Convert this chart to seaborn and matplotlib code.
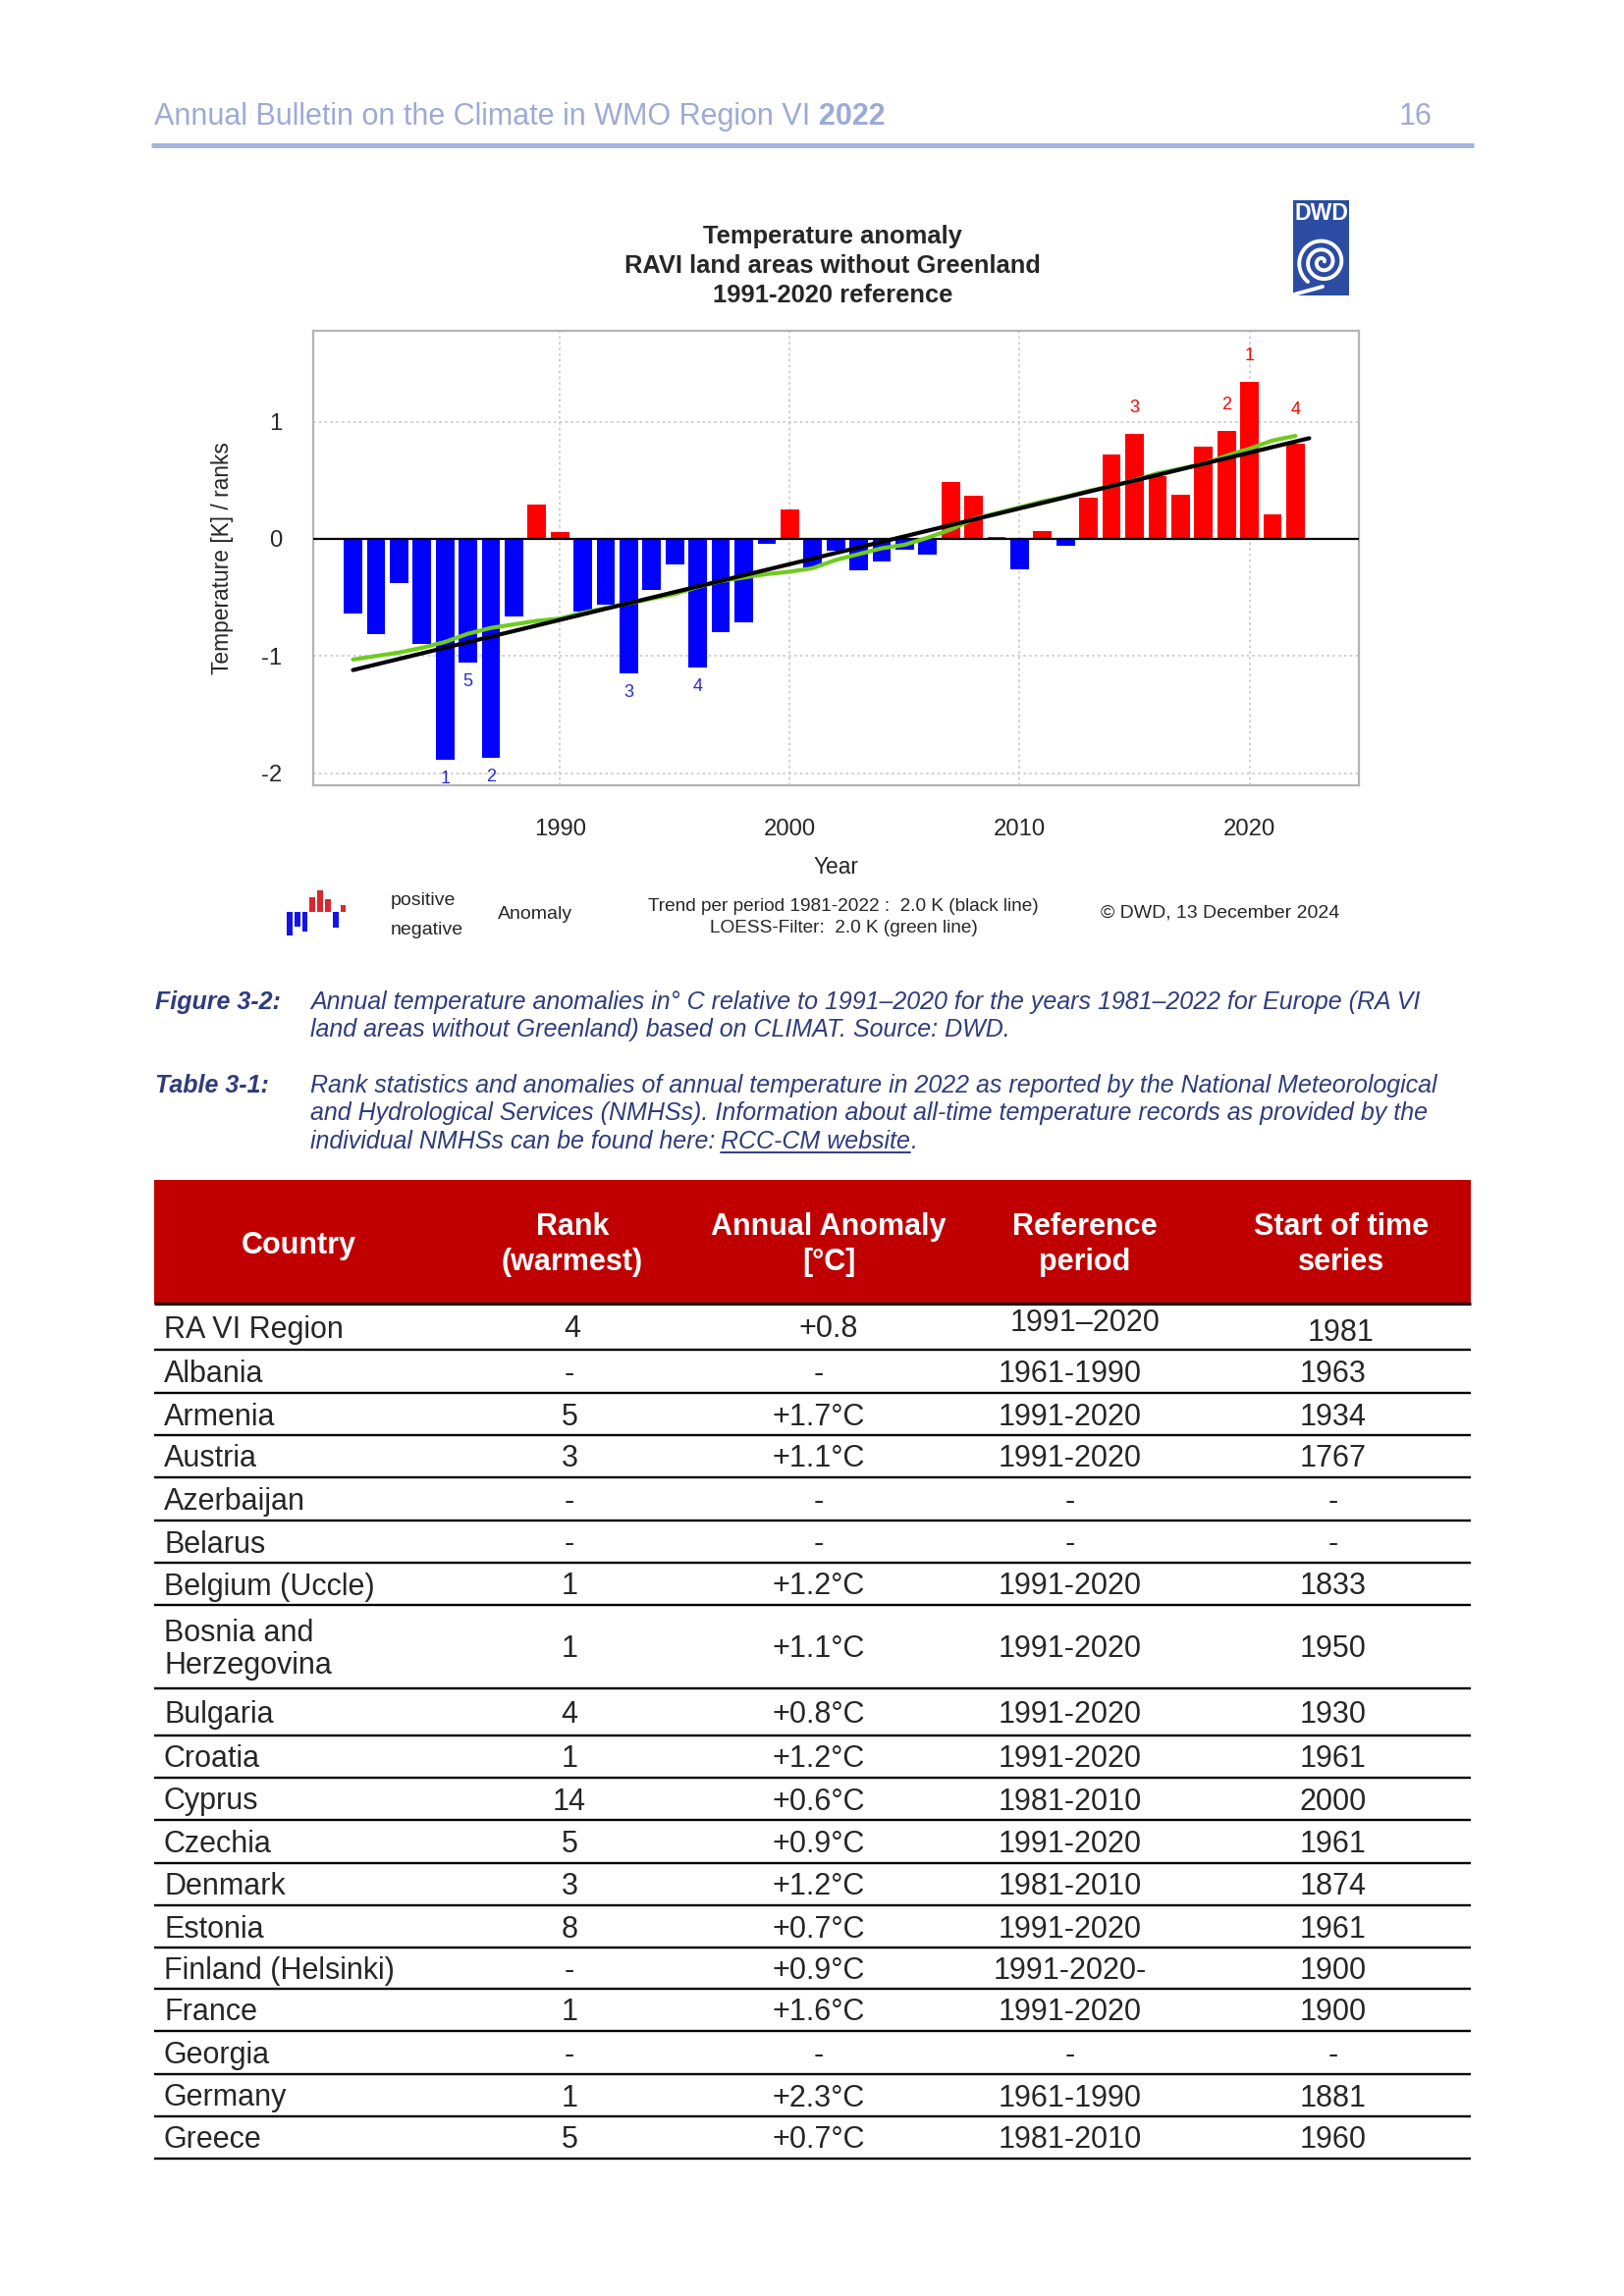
import numpy as np
import pandas as pd
import matplotlib
matplotlib.use('Agg')
import matplotlib.pyplot as plt
import seaborn as sns
from matplotlib import font_manager
from matplotlib.patches import Rectangle

W, H = 1654, 2339

# ------------------------------------------------------------
# data: annual temperature anomaly RA VI (K, 1991-2020 reference)
# ------------------------------------------------------------
years = list(range(1981, 2023))
anomaly = [-0.64, -0.81, -0.38, -0.90, -1.89, -1.06, -1.87, -0.66, 0.29, 0.06,
           -0.62, -0.56, -1.15, -0.44, -0.22, -1.10, -0.80, -0.71, -0.04, 0.25,
           -0.24, -0.10, -0.27, -0.19, -0.09, -0.13, 0.49, 0.37, 0.02, -0.26,
           0.07, -0.06, 0.35, 0.72, 0.90, 0.54, 0.38, 0.79, 0.92, 1.34,
           0.21, 0.81]
loess = [-1.03, -1.00, -0.97, -0.93, -0.88, -0.81, -0.76, -0.73, -0.70, -0.68,
         -0.63, -0.59, -0.55, -0.51, -0.47, -0.41, -0.36, -0.33, -0.30, -0.28,
         -0.25, -0.18, -0.13, -0.08, -0.05, 0.01, 0.08, 0.17, 0.22, 0.27,
         0.32, 0.36, 0.41, 0.45, 0.50, 0.56, 0.60, 0.64, 0.71, 0.77,
         0.84, 0.88]
# linear trend (black line), start and end as drawn
trend_years = [1981, 2022.6]
trend_values = [-1.12, 0.86]
warm_rank_years = [2020, 2019, 2015, 2022]
warm_ranks = [1, 2, 3, 4]
cold_rank_years = [1985, 1987, 1993, 1996, 1986]
cold_ranks = [1, 2, 3, 4, 5]
x_ticks = [1990, 2000, 2010, 2020]
y_ticks = [-2, -1, 0, 1]

# legend icon (small bar sketch), heights in px
icon_heights = [-24, -15, -20, 15, 22, 13, -16, 7]

# ------------------------------------------------------------
# table 3-1
# ------------------------------------------------------------
col_headers = [['Country'], ['Rank', '(warmest)'], ['Annual Anomaly', '[°C]'],
               ['Reference', 'period'], ['Start of time', 'series']]
countries = ['RA VI Region', 'Albania', 'Armenia', 'Austria', 'Azerbaijan', 'Belarus',
             'Belgium (Uccle)', 'Bosnia and\nHerzegovina', 'Bulgaria', 'Croatia',
             'Cyprus', 'Czechia', 'Denmark', 'Estonia', 'Finland (Helsinki)',
             'France', 'Georgia', 'Germany', 'Greece']
ranks = ['4', '-', '5', '3', '-', '-', '1', '1', '4', '1', '14', '5', '3', '8',
         '-', '1', '-', '1', '5']
anom_table = ['+0.8', '-', '+1.7°C', '+1.1°C', '-', '-', '+1.2°C', '+1.1°C',
              '+0.8°C', '+1.2°C', '+0.6°C', '+0.9°C', '+1.2°C', '+0.7°C',
              '+0.9°C', '+1.6°C', '-', '+2.3°C', '+0.7°C']
ref_periods = ['1991–2020', '1961-1990', '1991-2020', '1991-2020', '-', '-',
               '1991-2020', '1991-2020', '1991-2020', '1991-2020', '1981-2010',
               '1991-2020', '1981-2010', '1991-2020', '1991-2020-', '1991-2020',
               '-', '1961-1990', '1981-2010']
start_years = ['1981', '1963', '1934', '1767', '-', '-', '1833', '1950', '1930',
               '1961', '2000', '1961', '1874', '1961', '1900', '1900', '-',
               '1881', '1960']

# ------------------------------------------------------------
# style
# ------------------------------------------------------------
sns.set_style('white')
plt.rcParams['font.family'] = ['Liberation Sans', 'DejaVu Sans']
plt.rcParams['axes.unicode_minus'] = False

names = {f.name for f in font_manager.fontManager.ttflist}
if 'Liberation Sans Narrow' in names:
    cap_family, cap_size = ['Liberation Sans Narrow', 'Liberation Sans'], 10.9
else:
    cap_family, cap_size = ['Liberation Sans', 'DejaVu Sans'], 9.0

RED = '#FF0000'
BLUE = '#0000FF'
GREEN = '#6FCB1F'
HEAD_BLUE = '#9DAAD6'
CAP_BLUE = '#2F3C7C'

fig = plt.figure(figsize=(W / 200, H / 200), dpi=200)

# page axes in pixel coordinates
page = fig.add_axes([0, 0, 1, 1])
page.set_xlim(0, W)
page.set_ylim(H, 0)
page.axis('off')
renderer = fig.canvas.get_renderer()


def text_right(t):
    return t.get_window_extent(renderer=renderer).x1


# page header
t = page.text(157, 119, 'Annual Bulletin on the Climate in WMO Region VI', fontsize=11,
              color=HEAD_BLUE, va='center')
page.text(text_right(t) + 8.5, 119, '2022', fontsize=11, color=HEAD_BLUE,
          fontweight='bold', va='center')
page.text(1459, 119, '16', fontsize=11, color=HEAD_BLUE, va='center', ha='right')
page.plot([154, 1501], [148, 148], color='#A4B4DE', lw=1.8, solid_capstyle='butt')

# chart title
for y, line in zip([241, 271, 301], ['Temperature anomaly', 'RAVI land areas without Greenland',
                                     '1991-2020 reference']):
    page.text(848, y, line, fontsize=9.2, fontweight='bold', ha='center', va='center')

# DWD logo
page.add_patch(Rectangle((1317, 204), 57, 97, color='#2C4CA3', lw=0))
page.text(1345.5, 217, 'DWD', color='white', fontsize=8.3, fontweight='bold',
          ha='center', va='center')
th = np.linspace(0, 5.2 * np.pi, 400)
rr = 2 + 23 * th / th.max()
page.plot(1347 + rr * np.cos(th + 0.3), 267 - rr * np.sin(th + 0.3), color='white', lw=1.4)
page.plot([1347, 1318], [267 + 25, 300], color='white', lw=1.4)

# ------------------------------------------------------------
# bar chart
# ------------------------------------------------------------
df = pd.DataFrame({'year': years, 'anomaly': anomaly, 'loess': loess})
df['sign'] = np.where(df['anomaly'] >= 0, 'positive', 'negative')
trend = pd.DataFrame({'year': trend_years, 'value': trend_values})

ax = fig.add_axes([319 / W, 1 - 800 / H, 1065 / W, 463 / H])
sns.barplot(data=df, x='year', y='anomaly', hue='sign',
            palette={'positive': RED, 'negative': BLUE}, native_scale=True,
            width=0.8, dodge=False, saturation=1, errorbar=None, legend=False,
            linewidth=0, zorder=3, ax=ax)
ax.axhline(0, color='black', lw=0.8, zorder=4)
sns.lineplot(data=df, x='year', y='loess', color=GREEN, lw=1.5, zorder=5, ax=ax)
sns.lineplot(data=trend, x='year', y='value', color='black', lw=1.5, zorder=6, ax=ax)

for yr, rk in zip(warm_rank_years, warm_ranks):
    i = years.index(yr)
    ax.text(yr, max(anomaly[i], loess[i]) + 0.22, str(rk), color=RED, fontsize=6.5,
            ha='center', va='center')
for yr, rk in zip(cold_rank_years, cold_ranks):
    i = years.index(yr)
    ax.text(yr, min(anomaly[i], loess[i]) - 0.16, str(rk), color='#2A2AD0', fontsize=6.5,
            ha='center', va='center')

ax.set_xlim(1979.27, 2024.76)
ax.set_ylim(-2.104, 1.777)
ax.set_xticks(x_ticks)
ax.set_xticklabels([str(v) for v in x_ticks])
ax.set_yticks(y_ticks)
ax.set_yticklabels([str(v) for v in y_ticks])
ax.grid(True, color='#C8C8C8', lw=0.6, linestyle=(0, (1.5, 2.0)))
ax.set_axisbelow(True)
for s in ax.spines.values():
    s.set_color('#B4B4B4')
    s.set_linewidth(0.8)
ax.tick_params(axis='x', direction='out', length=2.9, width=0.7, color='black',
               labelsize=8.6, pad=9.5)
ax.tick_params(axis='y', direction='out', length=2.9, width=0.7, color='black',
               labelsize=8.6, pad=8.6)
ax.set_xlabel('Year', fontsize=8.2, va='center')
ax.set_ylabel('Temperature [K] / ranks', fontsize=8.2, va='center')
ax.xaxis.set_label_coords(0.5, (800 - 883) / 463)
ax.yaxis.set_label_coords((227 - 319) / 1065, 0.5)

# legend row under the chart
x0 = 292
for k, h in enumerate(icon_heights):
    page.add_patch(Rectangle((x0 + k * 7.8, 929), 5.8, -h, lw=0,
                             color='#D8282E' if h > 0 else '#1414E6'))
page.text(398, 917, 'positive', fontsize=7, va='center')
page.text(398, 947, 'negative', fontsize=7, va='center')
page.text(545, 932, 'Anomaly', fontsize=7, va='center', ha='center')
page.text(859, 923, 'Trend per period 1981-2022 :  2.0 K (black line)', fontsize=6.85,
          va='center', ha='center')
page.text(859, 946, 'LOESS-Filter:  2.0 K (green line)', fontsize=6.85,
          va='center', ha='center')
page.text(1243, 930, '© DWD, 13 December 2024', fontsize=7, va='center', ha='center')

# ------------------------------------------------------------
# captions
# ------------------------------------------------------------
cap = dict(fontsize=cap_size, family=cap_family, style='italic', color=CAP_BLUE, va='center')
page.text(158, 1021, 'Figure 3-2:', fontweight='bold', **cap)
page.text(316, 1021, 'Annual temperature anomalies in° C relative to 1991–2020 for the years '
          '1981–2022 for Europe (RA VI', **cap)
page.text(316, 1049, 'land areas without Greenland) based on CLIMAT. Source: DWD.', **cap)
page.text(158, 1106, 'Table 3-1:', fontweight='bold', **cap)
page.text(316, 1106, 'Rank statistics and anomalies of annual temperature in 2022 as reported '
          'by the National Meteorological', **cap)
page.text(316, 1134, 'and Hydrological Services (NMHSs). Information about all-time temperature '
          'records as provided by the', **cap)
t = page.text(316, 1163, 'individual NMHSs can be found here:', **cap)
xa = text_right(t) + 6
t2 = page.text(xa, 1163, 'RCC-CM website', **cap)
xb = text_right(t2)
page.plot([xa, xb], [1174, 1174], color=CAP_BLUE, lw=0.7)
page.text(xb, 1163, '.', **cap)

# ------------------------------------------------------------
# table
# ------------------------------------------------------------
tab_l, tab_r = 157, 1498
hdr_top, hdr_bot = 1202, 1328
row_lines = [1328, 1375, 1419, 1462, 1505, 1549, 1592, 1635, 1720, 1768, 1811,
             1854, 1898, 1941, 1984, 2026, 2069, 2113, 2156, 2199]
hdr_x = [304, 583, 844, 1105, 1366]
data_x = [167, 580, 834, 1090, 1358]

page.add_patch(Rectangle((tab_l, hdr_top), tab_r - tab_l, hdr_bot - hdr_top,
                         color='#C00000', lw=0))
for cx, lines in zip(hdr_x, col_headers):
    ys = [1269] if len(lines) == 1 else [1250, 1286]
    for y, s in zip(ys, lines):
        page.text(cx, y, s, color='white', fontsize=11, fontweight='bold',
                  ha='center', va='center')

for k, y in enumerate(row_lines):
    page.plot([tab_l, tab_r], [y, y], color='black', lw=1.1 if k == 0 else 0.85,
              solid_capstyle='butt')

for i in range(len(countries)):
    yc = (row_lines[i] + row_lines[i + 1]) / 2 + 3
    if i == 0:
        xs, offs = hdr_x[1:], [0, 0, -6, 3]
    else:
        xs, offs = data_x[1:], [0, 0, 0, 0]
    lines = countries[i].split('\n')
    if len(lines) == 1:
        page.text(data_x[0], yc, lines[0], fontsize=11, va='center')
    else:
        page.text(data_x[0], yc - 17, lines[0], fontsize=11, va='center')
        page.text(data_x[0], yc + 17, lines[1], fontsize=11, va='center')
    for cx, off, val in zip(xs, offs, [ranks[i], anom_table[i], ref_periods[i], start_years[i]]):
        page.text(cx, yc + off, val, fontsize=11, ha='center', va='center')

fig.savefig('out.png', dpi=200)
